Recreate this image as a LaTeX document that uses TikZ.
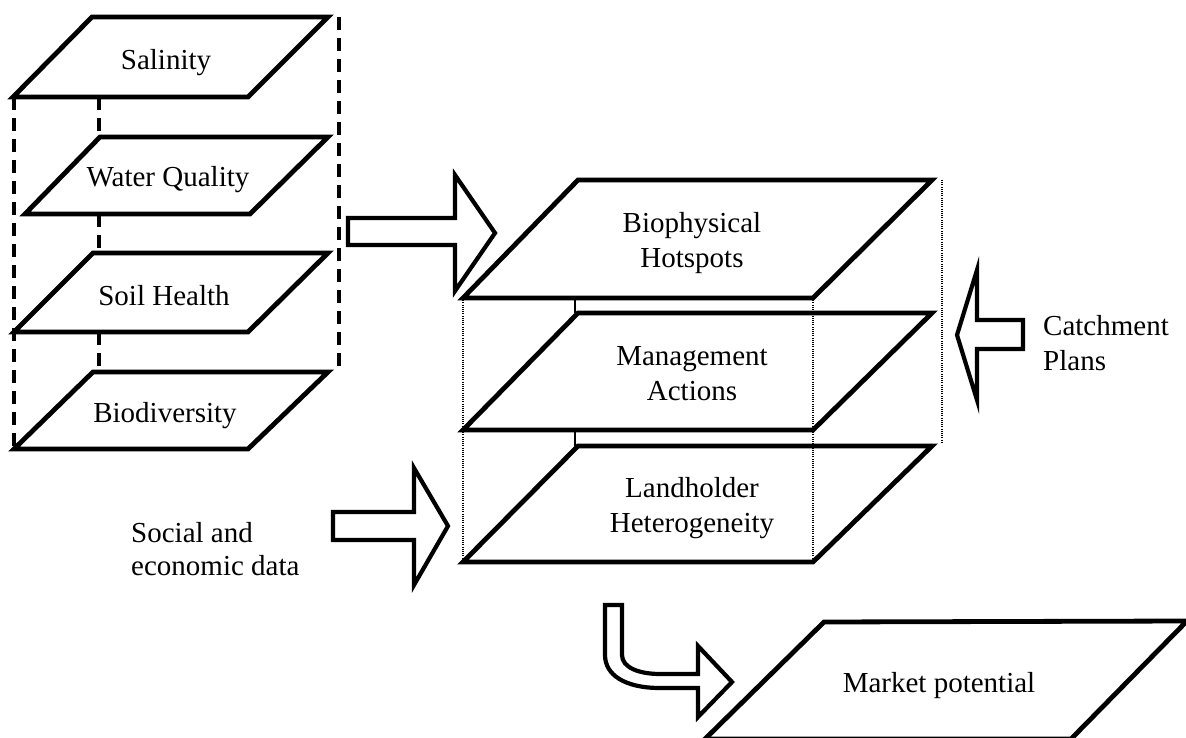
\documentclass[tikz,border=0pt]{standalone}
\usepackage{fontspec}
\setmainfont{Liberation Serif}
\begin{document}
\begin{tikzpicture}[x=1pt,y=-1pt,
  layer/.style={draw=black, line width=4.8pt, line join=miter},
  blockarrow/.style={draw=black, line width=4.2pt, fill=white, line join=miter},
  dashv/.style={draw=black, line width=4pt, dash pattern=on 13pt off 8pt},
  dotv/.style={draw=black, line width=1.3pt, dash pattern=on 1pt off 1.2pt},
  thinv/.style={draw=black, line width=1.8pt},
  lbl/.style={font=\fontsize{29}{35}\selectfont, inner sep=0pt, anchor=base},
]
\useasboundingbox (0,0) rectangle (1186,738);

% ---------- left stack corners
\coordinate (salBL) at (13,97);  \coordinate (salBR) at (248,97);
\coordinate (salTR) at (328,17); \coordinate (salTL) at (92,17);
\coordinate (watBL) at (25,214); \coordinate (watBR) at (250,214);
\coordinate (watTR) at (328,137);\coordinate (watTL) at (100,137);
\coordinate (soiBL) at (14,332); \coordinate (soiBR) at (248,332);
\coordinate (soiTR) at (328,253);\coordinate (soiTL) at (93,253);
\coordinate (bioBL) at (14,449); \coordinate (bioBR) at (248,449);
\coordinate (bioTR) at (328,372);\coordinate (bioTL) at (93,372);

% dashed guides
\coordinate (lTop) at (14,97);   \coordinate (lBot) at (14,449);
\coordinate (rTop) at (339,17);  \coordinate (rBot) at (339,367);
\coordinate (m1a) at (99,97);  \coordinate (m1b) at (99,137);
\coordinate (m2a) at (99,214); \coordinate (m2b) at (99,253);
\coordinate (m3a) at (99,332); \coordinate (m3b) at (99,372);
\draw[dashv] (lTop) -- (lBot);
\draw[dashv] (rTop) -- (rBot);
\draw[dashv] (m1a) -- (m1b);
\draw[dashv] (m2a) -- (m2b);
\draw[dashv] (m3a) -- (m3b);

\draw[layer] (salBL) -- (salBR) -- (salTR) -- (salTL) -- cycle;
\draw[layer] (watBL) -- (watBR) -- (watTR) -- (watTL) -- cycle;
\draw[layer] (soiBL) -- (soiBR) -- (soiTR) -- (soiTL) -- cycle;
\draw[layer] (bioBL) -- (bioBR) -- (bioTR) -- (bioTL) -- cycle;

\node[lbl] (tSal) at (166,70) {Salinity};
\node[lbl] (tWat) at (168,187) {Water Quality};
\node[lbl] (tSoi) at (164,305) {Soil Health};
\node[lbl] (tBio) at (165,422) {Biodiversity};

% ---------- middle stack
\coordinate (bphBL) at (463,298); \coordinate (bphBR) at (813,298);
\coordinate (bphTR) at (932,180); \coordinate (bphTL) at (578,180);
\coordinate (manBL) at (463,430); \coordinate (manBR) at (813,430);
\coordinate (manTR) at (932,313); \coordinate (manTL) at (578,313);
\coordinate (lanBL) at (463,562); \coordinate (lanBR) at (813,562);
\coordinate (lanTR) at (932,446); \coordinate (lanTL) at (578,446);

\coordinate (farTop) at (942,180); \coordinate (farBot) at (942,442);
\coordinate (c1a) at (575,298); \coordinate (c1b) at (575,313);
\coordinate (c2a) at (575,430); \coordinate (c2b) at (575,446);

\draw[dotv] (bphBL) -- (lanBL);
\draw[dotv] (bphBR) -- (lanBR);
\draw[dotv] (farTop) -- (farBot);
\draw[thinv] (c1a) -- (c1b);
\draw[thinv] (c2a) -- (c2b);

\draw[layer] (bphBL) -- (bphBR) -- (bphTR) -- (bphTL) -- cycle;
\draw[layer] (manBL) -- (manBR) -- (manTR) -- (manTL) -- cycle;
\draw[layer] (lanBL) -- (lanBR) -- (lanTR) -- (lanTL) -- cycle;

\node[lbl, align=center] (tBph) at (692,267) {Biophysical\\Hotspots};
\node[lbl, align=center] (tMan) at (692,400) {Management\\Actions};
\node[lbl, align=center] (tLan) at (692,532) {Landholder\\Heterogeneity};

% ---------- market potential
\coordinate (mkBL) at (705,739); \coordinate (mkBR) at (1071,739);
\coordinate (mkTR) at (1187,621); \coordinate (mkTL) at (824,622);
\draw[layer] (mkBL) -- (mkBR) -- (mkTR) -- (mkTL) -- cycle;
\node[lbl] (tMkt) at (939,692) {Market potential};

% ---------- side labels
\node[lbl, align=left, anchor=base west] (tCat) at (1043,370) {Catchment\\Plans};
\node[lbl, align=left, anchor=base west, font=\fontsize{29}{33}\selectfont] (tSoc) at (131,575) {Social and\\economic data};

% ---------- block arrows
\draw[blockarrow] (348,218) -- (455,218) -- (455,175) -- (495,233)
  -- (455,291) -- (455,245) -- (348,245) -- cycle;
\draw[blockarrow] (333,512) -- (414,512) -- (414,468) -- (448,526)
  -- (414,585) -- (414,540) -- (333,540) -- cycle;
\draw[blockarrow] (1023,320) -- (977,320) -- (977,270) -- (957,335)
  -- (977,400) -- (977,349) -- (1023,349) -- cycle;
\draw[blockarrow] (605,605) -- (622,605) -- (622,655)
  .. controls (622,668) and (640,674) .. (660,674) -- (698,674)
  -- (698,646) -- (732,682) -- (698,717) -- (698,688) -- (660,688)
  .. controls (625,688) and (605,675) .. (605,655) -- cycle;
\end{tikzpicture}
\end{document}
